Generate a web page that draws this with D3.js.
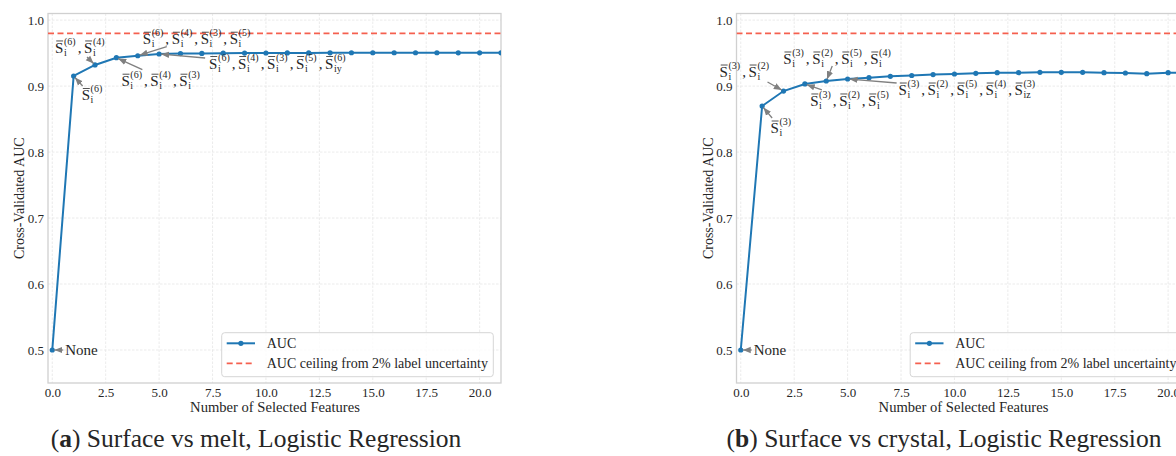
<!DOCTYPE html>
<html>
<head>
<meta charset="utf-8">
<script src="https://cdn.jsdelivr.net/npm/d3@7"></script>
<style>
  html, body { margin: 0; padding: 0; background: #fff; overflow: hidden; }
  svg { display: block; }
  text { font-family: "Liberation Serif", "Times New Roman", serif; fill: #262626; }
</style>
</head>
<body>
<svg id="fig" width="1176" height="456"></svg>
<script>
// ---- data -------------------------------------------------------------
const featureCounts = [0, 1, 2, 3, 4, 5, 6, 7, 8, 9, 10, 11, 12, 13, 14, 15, 16, 17, 18, 19, 20, 21];

// Surface vs melt, logistic regression
const aucMelt = [0.500, 0.9153, 0.932, 0.943, 0.946, 0.9486, 0.9492, 0.9495, 0.9498, 0.950,
                 0.9501, 0.9502, 0.9503, 0.9504, 0.9505, 0.9505, 0.9505, 0.9505, 0.9505,
                 0.9504, 0.9504, 0.9504];

// Surface vs crystal, logistic regression
const aucCrystal = [0.500, 0.8698, 0.8925, 0.9032, 0.9077, 0.9107, 0.9127, 0.9148, 0.916, 0.9175,
                    0.9183, 0.9194, 0.9203, 0.9203, 0.9209, 0.9209, 0.9209, 0.9203, 0.9198,
                    0.9188, 0.9203, 0.920];

const aucCeiling = 0.98;

const xTicks = [0, 2.5, 5, 7.5, 10, 12.5, 15, 17.5, 20];
const yTicks = [0.5, 0.6, 0.7, 0.8, 0.9, 1.0];

const xLabel = "Number of Selected Features";
const yLabel = "Cross-Validated AUC";
const legendLabels = ["AUC", "AUC ceiling from 2% label uncertainty"];

// feature sets added at each step: [subscript, superscript]
const meltSets = [
  null,
  [["i", "(6)"]],
  [["i", "(6)"], ["i", "(4)"]],
  [["i", "(6)"], ["i", "(4)"], ["i", "(3)"]],
  [["i", "(6)"], ["i", "(4)"], ["i", "(3)"], ["i", "(5)"]],
  [["i", "(6)"], ["i", "(4)"], ["i", "(3)"], ["i", "(5)"], ["iy", "(6)"]]
];
const crystalSets = [
  null,
  [["i", "(3)"]],
  [["i", "(3)"], ["i", "(2)"]],
  [["i", "(3)"], ["i", "(2)"], ["i", "(5)"]],
  [["i", "(3)"], ["i", "(2)"], ["i", "(5)"], ["i", "(4)"]],
  [["i", "(3)"], ["i", "(2)"], ["i", "(5)"], ["i", "(4)"], ["iz", "(3)"]]
];

const captionA = ["a", "Surface vs melt, Logistic Regression"];
const captionB = ["b", "Surface vs crystal, Logistic Regression"];

// ---- layout -------------------------------------------------------------
// label placement relative to the annotated point: text start (tx, ty), arrow tail (ax, ay)
const meltLayout = [
  { tx: 13, ty: 5, ax: 11, ay: 0 },
  { tx: 8, ty: 24.5, ax: 9, ay: 10 },
  { tx: -40, ty: -12, ax: -8, ay: -8 },
  { tx: 5, ty: 28.5, ax: 26, ay: 12 },
  { tx: 5, ty: -11.5, ax: 29, ay: -9 },
  { tx: 50, ty: 14.5, ax: 46, ay: 4 }
];
const crystalLayout = [
  { tx: 13, ty: 5, ax: 11, ay: 0 },
  { tx: 8.3, ty: 27, ax: 10, ay: 12 },
  { tx: -64, ty: -14, ax: -16, ay: -9 },
  { tx: 5.3, ty: 22, ax: 17, ay: 6 },
  { tx: -43, ty: -17, ax: 6, ay: -15 },
  { tx: 51, ty: 16, ax: 49, ay: 4 }
];

const panels = [
  { left: 48, values: aucMelt, sets: meltSets, layout: meltLayout, caption: captionA, capX: 256 },
  { left: 736.5, values: aucCrystal, sets: crystalSets, layout: crystalLayout, caption: captionB, capX: 944 }
];

const plotTop = 13.5, plotBottom = 383, plotW = 453;
const blue = "#1f77b4", red = "#f5604f", gridCol = "#e6e6e6", spineCol = "#d0d0d0", arrowCol = "#808080";

const svg = d3.select("#fig");
const defs = svg.append("defs");
defs.append("marker")
  .attr("id", "ahead").attr("viewBox", "0 0 10 10")
  .attr("refX", 10).attr("refY", 5)
  .attr("markerWidth", 8).attr("markerHeight", 8)
  .attr("markerUnits", "userSpaceOnUse")
  .attr("orient", "auto")
  .append("path").attr("d", "M0,1 L10,5 L0,9 Z").attr("fill", arrowCol);

// S-bar with stacked sub/superscripts, comma separated
function drawSetLabel(g, x, y, terms) {
  const fs = 15, ss = 10;
  let cx = x;
  terms.forEach((t, k) => {
    const s = g.append("text").attr("x", cx).attr("y", y).attr("font-size", fs).text("S");
    const w = s.node().getComputedTextLength();
    g.append("line")
      .attr("x1", cx + 1.2).attr("x2", cx + w - 0.2)
      .attr("y1", y - 12).attr("y2", y - 12)
      .attr("stroke", "#262626").attr("stroke-width", 0.8);
    const sx = cx + w + 0.6;
    const sup = g.append("text").attr("x", sx).attr("y", y - 8).attr("font-size", ss).text(t[1]);
    const sub = g.append("text").attr("x", sx).attr("y", y + 3).attr("font-size", ss).text(t[0]);
    cx = sx + Math.max(sup.node().getComputedTextLength(), sub.node().getComputedTextLength());
    if (k < terms.length - 1) {
      cx += 2;
      const c = g.append("text").attr("x", cx).attr("y", y).attr("font-size", fs).text(",");
      cx += c.node().getComputedTextLength() + 2.6;
    }
  });
}

panels.forEach((p, pi) => {
  const x = d3.scaleLinear().domain([-0.2, 21]).range([p.left, p.left + plotW]);
  const y = d3.scaleLinear().domain([0.45, 1.01]).range([plotBottom, plotTop]);
  const g = svg.append("g");

  const clipId = "clip" + pi;
  defs.append("clipPath").attr("id", clipId)
    .append("rect").attr("x", p.left).attr("y", plotTop)
    .attr("width", plotW).attr("height", plotBottom - plotTop);

  // grid
  g.append("g").selectAll("line").data(xTicks).join("line")
    .attr("x1", d => x(d)).attr("x2", d => x(d)).attr("y1", plotTop).attr("y2", plotBottom)
    .attr("stroke", gridCol).attr("stroke-width", 0.8).attr("stroke-dasharray", "2.5,1.5");
  g.append("g").selectAll("line").data(yTicks).join("line")
    .attr("y1", d => y(d)).attr("y2", d => y(d)).attr("x1", p.left).attr("x2", p.left + plotW)
    .attr("stroke", gridCol).attr("stroke-width", 0.8).attr("stroke-dasharray", "2.5,1.5");

  // axes (tick labels only)
  const xAxis = g.append("g").attr("transform", `translate(0,${plotBottom})`)
    .call(d3.axisBottom(x).tickValues(xTicks).tickFormat(d3.format(".1f")).tickSize(0).tickPadding(4.3));
  const yAxis = g.append("g").attr("transform", `translate(${p.left},0)`)
    .call(d3.axisLeft(y).tickValues(yTicks).tickFormat(d3.format(".1f")).tickSize(0).tickPadding(4));
  [xAxis, yAxis].forEach(a => {
    a.select(".domain").remove();
    a.selectAll("text").attr("font-size", 13).attr("fill", "#262626");
  });

  // frame
  g.append("rect").attr("x", p.left).attr("y", plotTop).attr("width", plotW).attr("height", plotBottom - plotTop)
    .attr("fill", "none").attr("stroke", spineCol).attr("stroke-width", 1.3);

  // axis titles
  g.append("text").attr("x", p.left + plotW / 2 + 0.5).attr("y", 412)
    .attr("text-anchor", "middle").attr("font-size", 14.6).text(xLabel);
  g.append("text").attr("transform", `translate(${p.left - 24},${(plotTop + plotBottom) / 2}) rotate(-90)`)
    .attr("text-anchor", "middle").attr("font-size", 14).text(yLabel);

  const plot = g.append("g").attr("clip-path", `url(#${clipId})`);

  // ceiling
  plot.append("line").attr("x1", p.left).attr("x2", p.left + plotW)
    .attr("y1", y(aucCeiling)).attr("y2", y(aucCeiling))
    .attr("stroke", red).attr("stroke-width", 1.8).attr("stroke-dasharray", "6,3.5");

  // AUC curve
  const pts = featureCounts.map((f, i) => [f, p.values[i]]);
  plot.append("path").datum(pts)
    .attr("d", d3.line().x(d => x(d[0])).y(d => y(d[1])))
    .attr("fill", "none").attr("stroke", blue).attr("stroke-width", 2);
  plot.append("g").selectAll("circle").data(pts).join("circle")
    .attr("cx", d => x(d[0])).attr("cy", d => y(d[1])).attr("r", 2.6).attr("fill", blue);

  // annotations
  const ann = g.append("g");
  p.layout.forEach((L, i) => {
    const px = x(featureCounts[i]), py = y(p.values[i]);
    const dx = -L.ax, dy = -L.ay, len = Math.hypot(dx, dy);
    const shrink = 2;
    ann.append("line")
      .attr("x1", px + L.ax).attr("y1", py + L.ay)
      .attr("x2", px + L.ax + dx * (len - shrink) / len).attr("y2", py + L.ay + dy * (len - shrink) / len)
      .attr("stroke", arrowCol).attr("stroke-width", 1.3).attr("marker-end", "url(#ahead)");
    if (p.sets[i] === null) {
      ann.append("text").attr("x", px + L.tx).attr("y", py + L.ty).attr("font-size", 15).text("None");
    } else {
      drawSetLabel(ann.append("g"), px + L.tx, py + L.ty, p.sets[i]);
    }
  });

  // legend
  const lg = g.append("g").attr("transform", `translate(${p.left + 173.7},332.7)`);
  lg.append("rect").attr("width", 271.6).attr("height", 44).attr("rx", 3)
    .attr("fill", "#fff").attr("fill-opacity", 0.8).attr("stroke", "#d6d6d6").attr("stroke-width", 1);
  lg.append("line").attr("x1", 5).attr("x2", 33.3).attr("y1", 10.6).attr("y2", 10.6)
    .attr("stroke", blue).attr("stroke-width", 2);
  lg.append("circle").attr("cx", 19.2).attr("cy", 10.6).attr("r", 2.6).attr("fill", blue);
  lg.append("line").attr("x1", 5).attr("x2", 33.3).attr("y1", 30.6).attr("y2", 30.6)
    .attr("stroke", red).attr("stroke-width", 1.8).attr("stroke-dasharray", "6,3.5");
  legendLabels.forEach((t, k) => {
    lg.append("text").attr("x", 45).attr("y", 15.2 + 20 * k).attr("font-size", 14).text(t);
  });

  // caption
  const cap = svg.append("text").attr("x", p.capX).attr("y", 447)
    .attr("text-anchor", "middle").attr("font-size", 25.5).attr("fill", "#111");
  cap.append("tspan").text("(");
  cap.append("tspan").attr("font-weight", "bold").text(p.caption[0]);
  cap.append("tspan").text(") " + p.caption[1]);
});
</script>
</body>
</html>
